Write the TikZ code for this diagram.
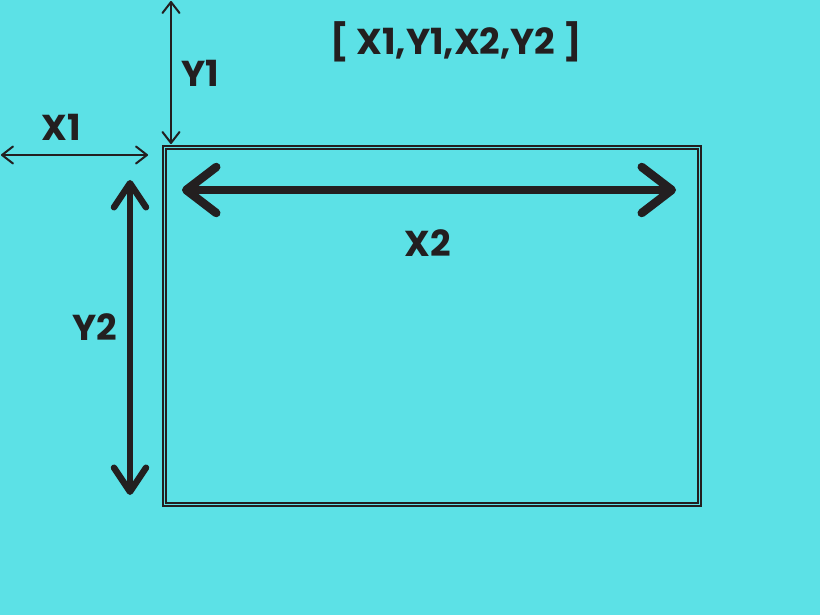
\documentclass[tikz,border=0pt]{standalone}
\usepackage{fontspec}
\setmainfont{Poppins}[BoldFont={* Bold}]
\usetikzlibrary{arrows.meta}
\definecolor{bgcyan}{HTML}{5CE1E6}
\definecolor{ink}{HTML}{231F20}
\tikzset{
  lbl/.style={font=\fontsize{36}{40}\selectfont\bfseries, text=ink, inner sep=0pt},
  thinarrow/.style={draw=ink, line width=2pt, {Straight Barb[round,length=11pt,width=17pt]}-{Straight Barb[round,length=11pt,width=17pt]}},
  midarrow/.style={draw=ink, line width=6.5pt, line cap=round, {Straight Barb[round,length=24pt,width=32pt]}-{Straight Barb[round,length=24pt,width=32pt]}},
  bigarrow/.style={draw=ink, line width=8.5pt, line cap=round, {Straight Barb[round,length=30pt,width=46pt]}-{Straight Barb[round,length=30pt,width=46pt]}},
  frame/.style={draw=ink, double=bgcyan, double distance=1.2pt, line width=1.6pt}
}
\begin{document}
\begin{tikzpicture}[x=1pt,y=-1pt]
\fill[bgcyan] (0,0) rectangle (820,615);
\useasboundingbox (0,0) rectangle (820,615);
% frame
\draw[frame] (164.5,147.5) rectangle (699.5,504.5);
% coordinates
\coordinate (y1a) at (171,1);
\coordinate (y1b) at (171,144);
\coordinate (x1a) at (1,155);
\coordinate (x1b) at (148,155);
\coordinate (y2a) at (130,180);
\coordinate (y2b) at (130,495);
\coordinate (x2a) at (182,190);
\coordinate (x2b) at (676,190);
\draw[thinarrow] (y1a) -- (y1b);
\draw[thinarrow] (x1a) -- (x1b);
\draw[midarrow] (y2a) -- (y2b);
\draw[bigarrow] (x2a) -- (x2b);
% labels
\node[lbl] (title) at (456,42) {[ X1,Y1,X2,Y2 ]};
\node[lbl] (ly1) at (200,73) {Y1};
\node[lbl] (lx1) at (61,127) {X1};
\node[lbl] (lx2) at (428,243) {X2};
\node[lbl] (ly2) at (95,327) {Y2};
\end{tikzpicture}
\end{document}
